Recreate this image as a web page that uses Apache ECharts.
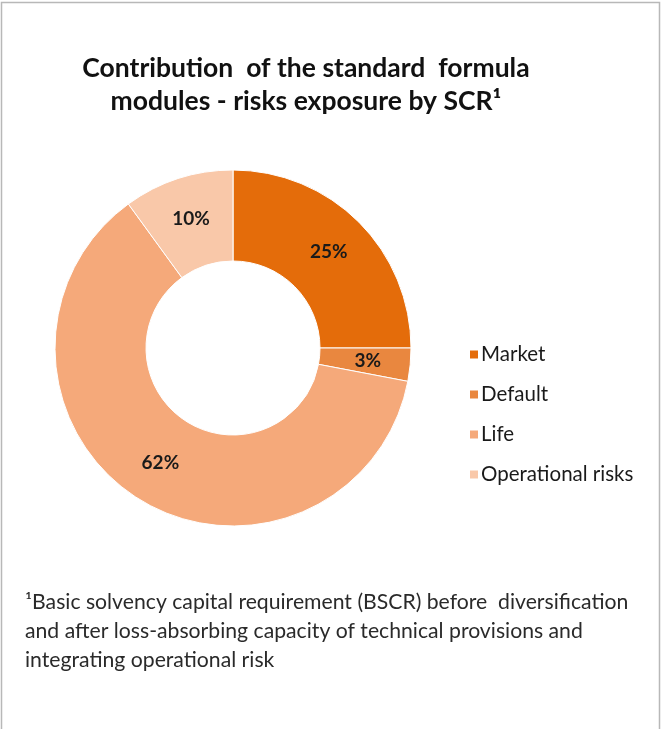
<!DOCTYPE html>
<html>
<head>
<meta charset="utf-8">
<title>SCR modules</title>
<script src="https://cdn.jsdelivr.net/npm/echarts@6/dist/echarts.min.js"></script>
<style>
  html, body { margin: 0; padding: 0; background: #fff; }
  #chart { width: 662px; height: 729px; }
</style>
</head>
<body>
<div id="chart"></div>
<script>
// data
var categories = ['Market', 'Default', 'Life', 'Operational risks'];
var shares = [25, 3, 62, 10];
var colors = ['#E46C0A', '#E9873F', '#F5A97A', '#F9C8A9'];

var chart = echarts.init(document.getElementById('chart'));

var pieData = categories.map(function (name, i) {
  return { name: name, value: shares[i], itemStyle: { color: colors[i] } };
});

var option = {
  backgroundColor: '#fff',
  animation: false,
  legend: {
    orient: 'vertical',
    left: 463,
    top: 339,
    icon: 'rect',
    itemWidth: 10,
    itemHeight: 10,
    itemGap: 19,
    data: categories,
    textStyle: { fontFamily: 'Lato', fontSize: 20.5, color: '#1a1a1a', padding: [0, 0, 0, -3] }
  },
  series: [{
    name: 'SCR',
    type: 'pie',
    center: [233, 348],
    radius: [87, 178],
    startAngle: 90,
    clockwise: true,
    data: pieData,
    itemStyle: { borderColor: '#fff', borderWidth: 1 },
    label: {
      position: 'inside',
      formatter: '{c}%',
      fontFamily: 'Lato',
      fontWeight: 'bold',
      fontSize: 19,
      color: '#1a1a1a'
    },
    labelLine: { show: false },
    emphasis: { disabled: true }
  }],
  graphic: [
    // frame
    {
      type: 'rect',
      shape: { x: 1.5, y: 2.5, width: 658, height: 740 },
      style: { fill: 'none', stroke: '#b8b8b8', lineWidth: 1.5 },
      silent: true
    },
    // title
    {
      type: 'text',
      x: 306,
      y: 52,
      style: {
        text: 'Contribution  of the standard  formula\nmodules - risks exposure by SCR\u00b9',
        fontFamily: 'Lato',
        fontWeight: 'bold',
        fontSize: 26.5,
        lineHeight: 33,
        fill: '#111',
        align: 'center'
      }
    },
    // footnote
    {
      type: 'text',
      x: 25,
      y: 588,
      style: {
        text: '\u00b9Basic solvency capital requirement (BSCR) before  diversification\nand after loss-absorbing capacity of technical provisions and\nintegrating operational risk',
        fontFamily: 'Lato',
        fontSize: 21.2,
        lineHeight: 29,
        fill: '#2a2a2a',
        align: 'left'
      }
    }
  ]
};

chart.setOption(option);
</script>
</body>
</html>
